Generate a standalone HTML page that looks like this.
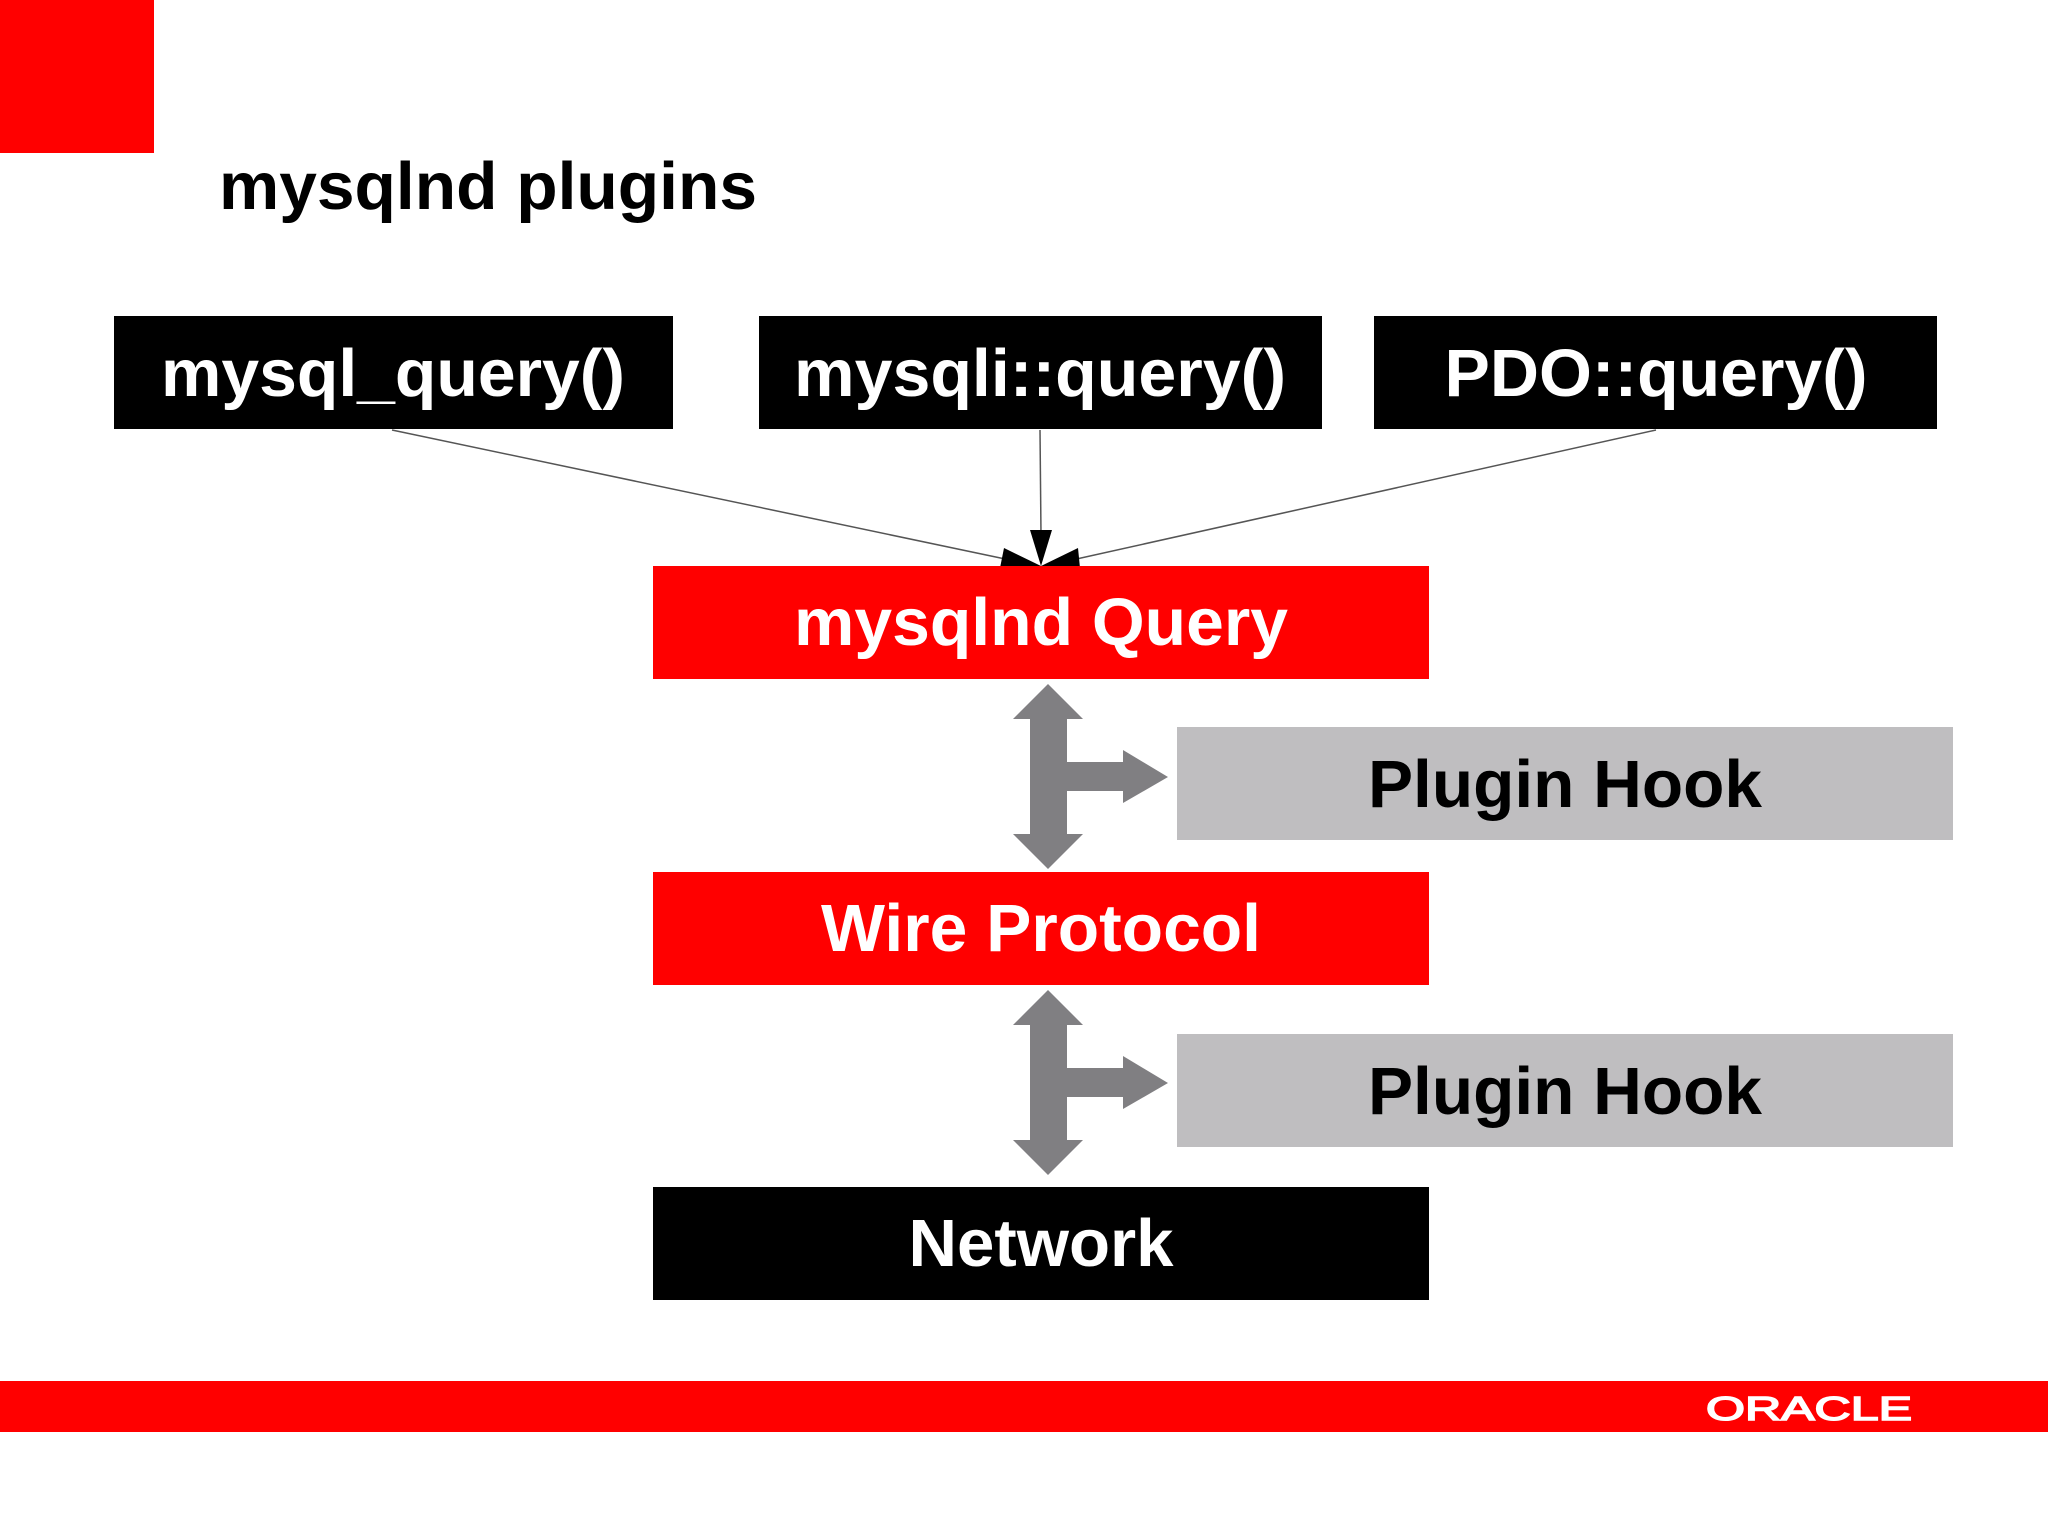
<!DOCTYPE html>
<html><head><meta charset="utf-8"><style>
html,body{margin:0;padding:0;background:#fff;}
svg{display:block;}
text{font-family:"Liberation Sans",Arial,sans-serif;font-weight:bold;}
</style></head><body>
<svg width="2048" height="1536" viewBox="0 0 2048 1536" xmlns="http://www.w3.org/2000/svg">
<rect x="0" y="0" width="2048" height="1536" fill="#fff"/>
<rect x="0" y="0" width="154" height="153" fill="#ff0000"/>
<text x="219" y="209" font-size="67" fill="#000" textLength="538" lengthAdjust="spacingAndGlyphs">mysqlnd plugins</text>

<rect x="114" y="316" width="559" height="113" fill="#000"/>
<text x="393" y="396" font-size="67" fill="#fff" text-anchor="middle" textLength="464" lengthAdjust="spacingAndGlyphs">mysql_query()</text>
<rect x="759" y="316" width="563" height="113" fill="#000"/>
<text x="1040" y="396" font-size="67" fill="#fff" text-anchor="middle" textLength="492" lengthAdjust="spacingAndGlyphs">mysqli::query()</text>
<rect x="1374" y="316" width="563" height="113" fill="#000"/>
<text x="1656" y="396" font-size="67" fill="#fff" text-anchor="middle" textLength="423" lengthAdjust="spacingAndGlyphs">PDO::query()</text>

<g stroke="#555" stroke-width="1.5" fill="none">
<line x1="392" y1="430" x2="1010" y2="560"/>
<line x1="1040" y1="430" x2="1041" y2="535"/>
<line x1="1656" y1="430" x2="1072" y2="560"/>
</g>
<polygon points="1041,566 1030,530 1052,530" fill="#000"/>
<polygon points="1041,566 1004,548 1000,568" fill="#000"/>
<polygon points="1041,566 1078,548 1080,568" fill="#000"/>

<rect x="653" y="566" width="776" height="113" fill="#ff0000"/>
<text x="1041" y="645" font-size="67" fill="#fff" text-anchor="middle" textLength="494" lengthAdjust="spacingAndGlyphs">mysqlnd Query</text>

<rect x="1177" y="727" width="776" height="113" fill="#bfbec0"/>
<text x="1565" y="807" font-size="67" fill="#000" text-anchor="middle" textLength="394" lengthAdjust="spacingAndGlyphs">Plugin Hook</text>

<g fill="#807f82">
<polygon points="1048,684 1083,719 1067,719 1067,762 1123,762 1123,750 1168,777 1123,803 1123,791 1067,791 1067,834 1083,834 1048,869 1013,834 1030,834 1030,719 1013,719"/>
</g>
<g transform="translate(0,306)" fill="#807f82">
<polygon points="1048,684 1083,719 1067,719 1067,762 1123,762 1123,750 1168,777 1123,803 1123,791 1067,791 1067,834 1083,834 1048,869 1013,834 1030,834 1030,719 1013,719"/>
</g>

<rect x="653" y="872" width="776" height="113" fill="#ff0000"/>
<text x="1041" y="951" font-size="67" fill="#fff" text-anchor="middle" textLength="440" lengthAdjust="spacingAndGlyphs">Wire Protocol</text>

<rect x="1177" y="1034" width="776" height="113" fill="#bfbec0"/>
<text x="1565" y="1114" font-size="67" fill="#000" text-anchor="middle" textLength="394" lengthAdjust="spacingAndGlyphs">Plugin Hook</text>

<rect x="653" y="1187" width="776" height="113" fill="#000"/>
<text x="1041" y="1266" font-size="67" fill="#fff" text-anchor="middle" textLength="265" lengthAdjust="spacingAndGlyphs">Network</text>

<rect x="0" y="1381" width="2048" height="51" fill="#ff0000"/>
<text x="1706" y="1420" font-size="33" fill="#fff" stroke="#fff" stroke-width="1.5" textLength="206" lengthAdjust="spacingAndGlyphs" style="font-weight:normal">ORACLE</text>
</svg>
</body></html>
